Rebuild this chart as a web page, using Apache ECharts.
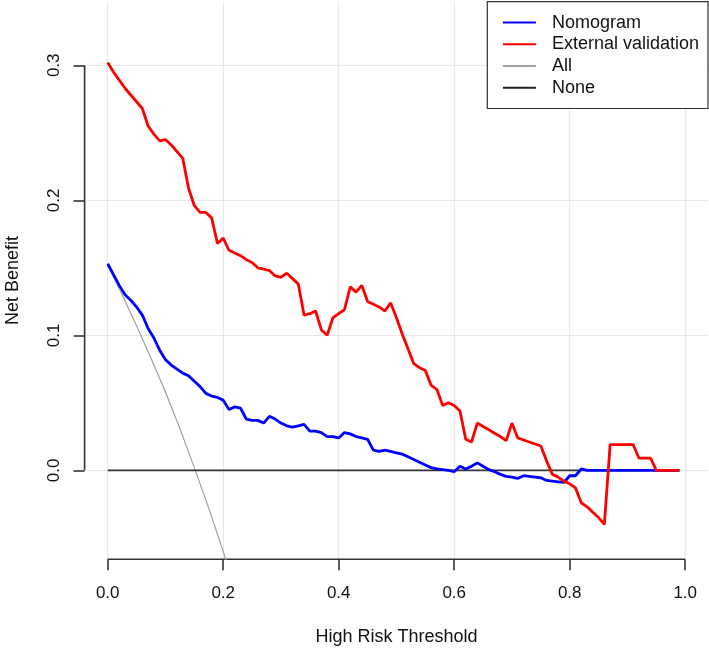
<!DOCTYPE html>
<html>
<head>
<meta charset="utf-8">
<script src="https://cdn.jsdelivr.net/npm/echarts@6/dist/echarts.min.js"></script>
<style>
html,body{margin:0;padding:0;background:#fff;}
#c{width:709px;height:648px;}
</style>
</head>
<body>
<div id="c"></div>
<script>
const xTicks = [0, 0.2, 0.4, 0.6, 0.8, 1.0];
const yTicks = [0, 0.1, 0.2, 0.3];
const seriesNames = ['Nomogram', 'External validation', 'All', 'None'];

const nomogram = [[0,0.153],[0.01,0.145],[0.02,0.137],[0.03,0.130],[0.04,0.126],[0.05,0.121],[0.06,0.115],[0.07,0.105],[0.08,0.098],[0.09,0.089],[0.10,0.082],[0.11,0.078],[0.12,0.075],[0.13,0.072],[0.14,0.070],[0.15,0.066],[0.16,0.062],[0.17,0.057],[0.18,0.055],[0.19,0.054],[0.20,0.052],[0.21,0.045],[0.22,0.047],[0.23,0.046],[0.24,0.038],[0.25,0.037],[0.26,0.037],[0.27,0.035],[0.28,0.040],[0.29,0.038],[0.30,0.035],[0.31,0.033],[0.32,0.032],[0.33,0.033],[0.34,0.034],[0.35,0.029],[0.36,0.029],[0.37,0.028],[0.38,0.025],[0.39,0.025],[0.40,0.024],[0.41,0.028],[0.42,0.027],[0.43,0.025],[0.44,0.024],[0.45,0.023],[0.46,0.015],[0.47,0.014],[0.48,0.015],[0.49,0.014],[0.50,0.013],[0.51,0.012],[0.52,0.010],[0.53,0.008],[0.54,0.006],[0.55,0.004],[0.56,0.002],[0.57,0.001],[0.58,0.0005],[0.59,0],[0.60,-0.001],[0.61,0.003],[0.62,0.001],[0.63,0.003],[0.64,0.0055],[0.65,0.003],[0.66,0.0005],[0.67,-0.001],[0.68,-0.003],[0.69,-0.0045],[0.70,-0.005],[0.71,-0.006],[0.72,-0.004],[0.73,-0.0045],[0.74,-0.005],[0.75,-0.0055],[0.76,-0.0075],[0.77,-0.008],[0.78,-0.0085],[0.79,-0.009],[0.80,-0.004],[0.81,-0.004],[0.82,0.001],[0.83,0],[0.99,0]];

const externalValidation = [[0,0.302],[0.01,0.295],[0.02,0.289],[0.03,0.283],[0.04,0.278],[0.05,0.273],[0.06,0.268],[0.07,0.255],[0.08,0.249],[0.09,0.244],[0.10,0.245],[0.11,0.241],[0.12,0.236],[0.13,0.231],[0.14,0.209],[0.15,0.196],[0.16,0.191],[0.17,0.191],[0.18,0.187],[0.19,0.168],[0.20,0.172],[0.21,0.163],[0.22,0.161],[0.23,0.159],[0.24,0.156],[0.25,0.154],[0.26,0.150],[0.27,0.149],[0.28,0.148],[0.29,0.144],[0.30,0.143],[0.31,0.146],[0.32,0.142],[0.33,0.138],[0.34,0.115],[0.35,0.116],[0.36,0.118],[0.37,0.104],[0.38,0.100],[0.39,0.113],[0.40,0.116],[0.41,0.119],[0.42,0.136],[0.43,0.132],[0.44,0.137],[0.45,0.125],[0.46,0.123],[0.47,0.121],[0.48,0.118],[0.49,0.124],[0.50,0.113],[0.51,0.101],[0.52,0.090],[0.53,0.079],[0.54,0.076],[0.55,0.074],[0.56,0.063],[0.57,0.060],[0.58,0.048],[0.59,0.050],[0.60,0.048],[0.61,0.044],[0.62,0.023],[0.63,0.021],[0.64,0.035],[0.65,0.0325],[0.66,0.030],[0.67,0.0275],[0.68,0.025],[0.69,0.022],[0.70,0.035],[0.71,0.024],[0.72,0.0225],[0.73,0.021],[0.74,0.0195],[0.75,0.018],[0.76,0.007],[0.77,-0.003],[0.78,-0.005],[0.79,-0.008],[0.80,-0.010],[0.81,-0.013],[0.82,-0.024],[0.83,-0.027],[0.84,-0.031],[0.85,-0.035],[0.86,-0.040],[0.87,0.019],[0.88,0.019],[0.89,0.019],[0.90,0.019],[0.91,0.019],[0.92,0.009],[0.93,0.009],[0.94,0.009],[0.95,0],[0.99,0]];

const allLine = [[0,0.152],[0.025,0.130],[0.05,0.107],[0.075,0.083],[0.10,0.058],[0.125,0.031],[0.15,0.002],[0.175,-0.028],[0.20,-0.060],[0.225,-0.094],[0.25,-0.131]];
const noneLine = [[0,0],[0.99,0]];

const xRange = [-0.04, 1.04];
const yRange = [-0.0659, 0.347];

const FONT = '"Liberation Sans", Arial, sans-serif';
const chart = echarts.init(document.getElementById('c'), null, {renderer: 'canvas'});

const gridLines = xTicks.map(v => ({xAxis: v})).concat(yTicks.map(v => ({yAxis: v})));

chart.setOption({
  animation: false,
  backgroundColor: '#fff',
  textStyle: {fontFamily: FONT},
  grid: {left: 84.6, right: 0.7, top: 1.85, bottom: 88.7, containLabel: false, outerBoundsMode: 'none'},
  legend: {
    data: seriesNames.map(n => ({name: n, icon: 'rect'})),
    orient: 'vertical',
    right: 1,
    top: 1.7,
    zlevel: 2,
    itemWidth: 33,
    itemHeight: 2,
    itemGap: 0,
    padding: [10, 9, 10, 15.6],
    borderColor: '#333',
    borderWidth: 1.2,
    backgroundColor: '#fff',
    selectedMode: false,
    textStyle: {fontFamily: FONT, fontSize: 18, color: '#111', lineHeight: 21.7, padding: [0, 0, 0, 11]}
  },
  xAxis: {
    type: 'value',
    min: xRange[0], max: xRange[1],
    splitLine: {show: false},
    axisLine: {show: false, onZero: false},
    axisTick: {show: true, customValues: xTicks, length: 11, lineStyle: {color: '#333', width: 1.6}},
    axisLabel: {customValues: xTicks, formatter: v => v.toFixed(1), fontSize: 17, color: '#111', margin: 26, fontFamily: FONT},
    name: 'High Risk Threshold',
    nameLocation: 'middle',
    nameGap: 69,
    nameTextStyle: {fontSize: 18, color: '#111', fontFamily: FONT}
  },
  yAxis: {
    type: 'value',
    min: yRange[0], max: yRange[1],
    splitLine: {show: false},
    axisLine: {show: false, onZero: false},
    axisTick: {show: true, customValues: yTicks, length: 11, lineStyle: {color: '#333', width: 1.6}},
    axisLabel: {customValues: yTicks, formatter: v => v.toFixed(1), fontSize: 17, color: '#111', margin: 22, rotate: 90, fontFamily: FONT},
    name: 'Net Benefit',
    nameLocation: 'middle',
    nameRotate: 90,
    nameGap: 63,
    nameTextStyle: {fontSize: 18, color: '#111', fontFamily: FONT}
  },
  series: [
    {
      name: 'grid', type: 'line', data: [], silent: true, zlevel: 0, z: 1,
      markLine: {
        silent: true, symbol: ['none', 'none'], animation: false,
        label: {show: false},
        lineStyle: {color: '#e8e8e8', width: 1.2, type: 'solid'},
        emphasis: {disabled: true},
        data: gridLines
      }
    },
    {
      name: 'xaxisline', type: 'line', data: [[xTicks[0], yRange[0]], [xTicks[xTicks.length - 1], yRange[0]]],
      symbol: 'none', clip: false, silent: true, zlevel: 1, z: 3,
      lineStyle: {color: '#333', width: 1.6}
    },
    {
      name: 'yaxisline', type: 'line', data: [[xRange[0], yTicks[0]], [xRange[0], yTicks[yTicks.length - 1]]],
      symbol: 'none', clip: false, silent: true, zlevel: 1, z: 3,
      lineStyle: {color: '#333', width: 1.6}
    },
    {
      name: 'All', type: 'line', data: allLine, symbol: 'none', zlevel: 1, z: 4,
      lineStyle: {color: '#a0a0a0', width: 1.2}, itemStyle: {color: '#a0a0a0'}
    },
    {
      name: 'None', type: 'line', data: noneLine, symbol: 'none', zlevel: 1, z: 4,
      lineStyle: {color: '#333', width: 1.6}, itemStyle: {color: '#222'}
    },
    {
      name: 'Nomogram', type: 'line', data: nomogram, symbol: 'none', zlevel: 1, z: 5,
      lineStyle: {color: '#0000ff', width: 2.8}, itemStyle: {color: '#0000ff'}
    },
    {
      name: 'External validation', type: 'line', data: externalValidation, symbol: 'none', zlevel: 1, z: 6,
      lineStyle: {color: '#ff0000', width: 2.8}, itemStyle: {color: '#ff0000'}
    }
  ]
});
</script>
</body>
</html>
